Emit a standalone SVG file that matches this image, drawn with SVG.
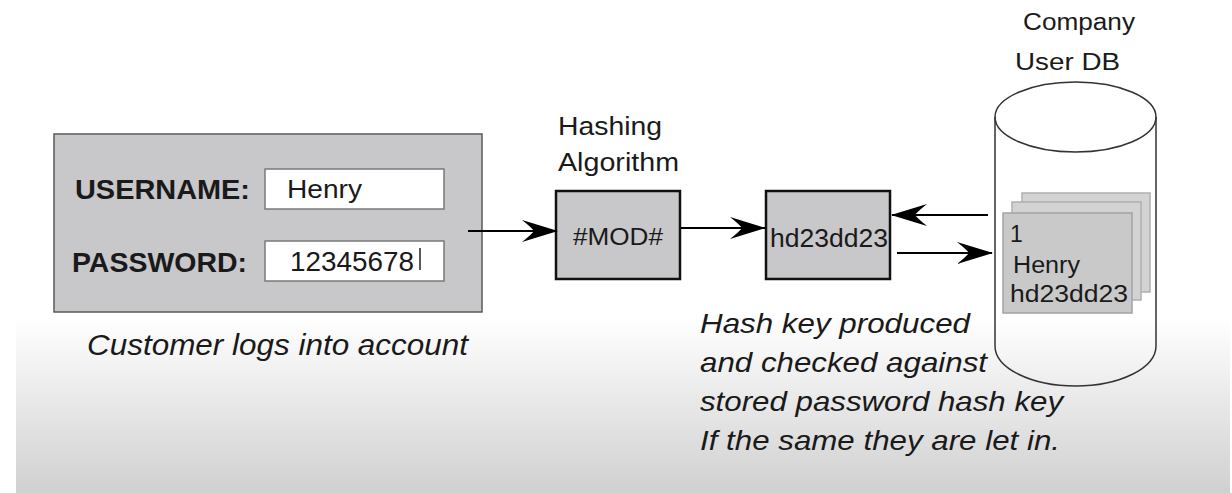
<svg xmlns="http://www.w3.org/2000/svg" width="1232" height="493" viewBox="0 0 1232 493">
<style>
text{font-family:"Liberation Sans",Arial,sans-serif;fill:#1a1a1a}
.b{font-weight:bold}
.i{font-style:italic}
.panel{fill:#c8c7c9;stroke:#5a5a5a;stroke-width:1.5}
.field{fill:#ffffff;stroke:#7a7a7a;stroke-width:1.5}
.box{fill:#c8c7c9;stroke:#111;stroke-width:2.5}
.rec{fill:#c9c9c9;stroke:#a3a3a3;stroke-width:1.5}
.recb{fill:#d3d3d3;stroke:#b0b0b0;stroke-width:1.5}
.conn{stroke:#000;stroke-width:2.2;fill:none;marker-end:url(#ah)}
</style>
<defs>
<linearGradient id="bg" x1="0" y1="0" x2="0" y2="1">
<stop offset="0" stop-color="#ffffff"/>
<stop offset="1" stop-color="#d0d0d0"/>
</linearGradient>
<marker id="ah" markerUnits="userSpaceOnUse" viewBox="0 0 36 22" markerWidth="36" markerHeight="22" refX="35" refY="11" orient="auto">
<path d="M0,0 L36,11 L0,22 Q10,14 12,11 Q10,8 0,0 Z" fill="#000"/>
</marker>
</defs>
<rect x="0" y="0" width="1232" height="493" fill="#ffffff"/>
<rect x="16" y="318" width="1214" height="175" fill="url(#bg)"/>

<g id="login">
<rect class="panel" x="54" y="134" width="428" height="178"/>
<text class="b" x="75" y="199" font-size="28" textLength="175" lengthAdjust="spacingAndGlyphs">USERNAME:</text>
<rect class="field" x="265" y="169" width="179" height="40"/>
<text x="287" y="198" font-size="26" textLength="75" lengthAdjust="spacingAndGlyphs">Henry</text>
<text class="b" x="72" y="272" font-size="28" textLength="175" lengthAdjust="spacingAndGlyphs">PASSWORD:</text>
<rect class="field" x="265" y="241" width="179" height="40"/>
<text x="290" y="271" font-size="28" textLength="124" lengthAdjust="spacingAndGlyphs">12345678</text>
<line x1="420" y1="248" x2="420" y2="270" stroke="#222" stroke-width="1.5"/>
</g>
<g id="login-caption">
<text class="i" x="87" y="355" font-size="30" textLength="381" lengthAdjust="spacingAndGlyphs">Customer logs into account</text>
</g>

<g id="hashing">
<text x="558" y="135" font-size="25" textLength="104" lengthAdjust="spacingAndGlyphs">Hashing</text>
<text x="558" y="171" font-size="25" textLength="121" lengthAdjust="spacingAndGlyphs">Algorithm</text>
<rect class="box" x="556" y="191" width="124" height="88"/>
<text x="573" y="245" font-size="24" textLength="90" lengthAdjust="spacingAndGlyphs">#MOD#</text>
</g>

<g id="hashkey">
<rect class="box" x="766" y="191" width="124" height="88"/>
<text x="770" y="247" font-size="25" textLength="118" lengthAdjust="spacingAndGlyphs">hd23dd23</text>
</g>

<g id="hash-caption">
<text class="i" x="700" y="333" font-size="28" textLength="270" lengthAdjust="spacingAndGlyphs">Hash key produced</text>
<text class="i" x="700" y="372" font-size="28" textLength="287" lengthAdjust="spacingAndGlyphs">and checked against</text>
<text class="i" x="700" y="411" font-size="28" textLength="363" lengthAdjust="spacingAndGlyphs">stored password hash key</text>
<text class="i" x="700" y="450" font-size="28" textLength="360" lengthAdjust="spacingAndGlyphs">If the same they are let in.</text>
</g>

<g id="database">
<text x="1023" y="30" font-size="23" textLength="112" lengthAdjust="spacingAndGlyphs">Company</text>
<text x="1015" y="70" font-size="23" textLength="105" lengthAdjust="spacingAndGlyphs">User DB</text>
<path d="M995,117 L995,346 A80.5,40 0 0 0 1156,346 L1156,117" fill="none" stroke="#333" stroke-width="1.5"/>
<ellipse cx="1075.5" cy="117" rx="80.5" ry="35" fill="none" stroke="#333" stroke-width="1.5"/>
<rect class="recb" x="1022" y="193" width="128" height="99"/>
<rect class="recb" x="1012" y="202" width="129" height="98"/>
<rect class="rec" x="1003" y="213" width="129" height="100"/>
<text x="1010" y="242" font-size="23">1</text>
<text x="1013" y="273" font-size="23" textLength="67" lengthAdjust="spacingAndGlyphs">Henry</text>
<text x="1010" y="302" font-size="23" textLength="118" lengthAdjust="spacingAndGlyphs">hd23dd23</text>
</g>

<g id="connectors">
<path class="conn" d="M468,231 L557,231"/>
<path class="conn" d="M681,228 L765,228"/>
<path class="conn" d="M988,215 L892,215"/>
<path class="conn" d="M897,253 L992,253"/>
</g>
</svg>
